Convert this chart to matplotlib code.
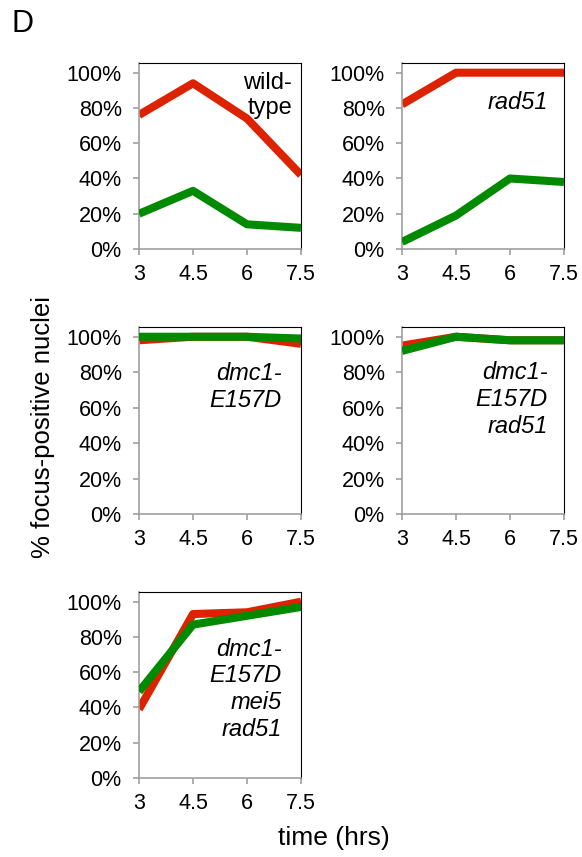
import matplotlib
matplotlib.use("Agg")
import matplotlib.pyplot as plt
from matplotlib.ticker import PercentFormatter

plt.rcParams['font.family'] = ['Liberation Sans', 'DejaVu Sans']

# time points (hrs)
times = [3, 4.5, 6, 7.5]
time_labels = ['3', '4.5', '6', '7.5']

# % focus-positive nuclei per strain (red / green foci)
wt_red = [76, 94, 74, 42]
wt_green = [20, 33, 14, 12]
rad51_red = [82, 100, 100, 100]
rad51_green = [4, 19, 40, 38]
dmc1_red = [98, 100, 100, 96]
dmc1_green = [100, 100, 100, 99]
dmc1_rad51_red = [95, 100, 98, 98]
dmc1_rad51_green = [92, 100, 98, 98]
dmc1_mei5_rad51_red = [39, 93, 94, 100]
dmc1_mei5_rad51_green = [49, 87, 92, 97]

strain_labels = ['wild-\ntype', 'rad51', 'dmc1-\nE157D', 'dmc1-\nE157D\nrad51',
                 'dmc1-\nE157D\nmei5\nrad51']

RED = '#dd2200'
GREEN = '#008a00'
GREY = '#a0a0a0'

W, H = 582, 857
fig = plt.figure(figsize=(W / 100, H / 100), dpi=100)


def add_panel(left, top, right, bottom):
    return fig.add_axes([left / W, (H - bottom) / H, (right - left) / W, (bottom - top) / H])


panels = [
    # (box in pixels, red, green, label, italic, label x, label y)
    ((139, 63, 301, 249), wt_red, wt_green, strain_labels[0], False, 0.945, 0.825),
    ((402, 63, 564, 249), rad51_red, rad51_green, strain_labels[1], True, 0.90, 0.785),
    ((139, 327, 301, 514), dmc1_red, dmc1_green, strain_labels[2], True, 0.88, 0.68),
    ((402, 327, 564, 514), dmc1_rad51_red, dmc1_rad51_green, strain_labels[3], True, 0.90, 0.61),
    ((139, 592, 301, 778), dmc1_mei5_rad51_red, dmc1_mei5_rad51_green, strain_labels[4], True, 0.88, 0.476),
]

for box, red, green, label, italic, lx, ly in panels:
    ax = add_panel(*box)
    ax.plot(times, [v / 100 for v in red], color=RED, lw=5.8, solid_capstyle='butt', zorder=2)
    ax.plot(times, [v / 100 for v in green], color=GREEN, lw=5.8, solid_capstyle='butt', zorder=3)
    ax.set_xlim(3, 7.5)
    ax.set_ylim(0, 1.055)
    ax.set_xticks(times)
    ax.set_xticklabels(time_labels)
    ax.set_yticks([0, 0.2, 0.4, 0.6, 0.8, 1.0])
    ax.yaxis.set_major_formatter(PercentFormatter(1.0, decimals=0))
    for side in ('left', 'bottom'):
        ax.spines[side].set_color(GREY)
        ax.spines[side].set_linewidth(1.2)
    for side in ('top', 'right'):
        ax.spines[side].set_color('black')
        ax.spines[side].set_linewidth(0.8)
    ax.tick_params(axis='both', direction='out', width=1.2, length=4.5,
                   labelsize=15.5, colors='black')
    ax.tick_params(axis='both', color=GREY)
    ax.tick_params(axis='y', pad=8)
    ax.tick_params(axis='x', pad=6)
    ax.text(lx, ly, label, transform=ax.transAxes, ha='right', va='center',
            fontsize=17, style='italic' if italic else 'normal', linespacing=1.22)

fig.text(22 / W, 1 - 24 / H, 'D', fontsize=22, ha='center', va='center')
fig.text(43 / W, 1 - 427 / H, '% focus-positive nuclei', fontsize=18.5, rotation=90,
         ha='center', va='center')
fig.text(334 / W, 1 - 838 / H, 'time (hrs)', fontsize=19, ha='center', va='center')

fig.savefig('out.png', dpi=100)
